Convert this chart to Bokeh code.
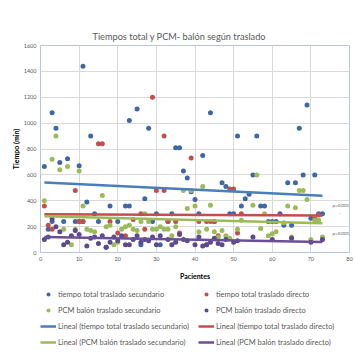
from bokeh.plotting import figure
from bokeh.layouts import column
from bokeh.models import Legend, LegendItem, Label, Range1d, FixedTicker
from bokeh.embed import file_html
from bokeh.resources import INLINE

# ---- data ----
title_text = "Tiempos total y PCM- balón según traslado"
x_ticks = [0, 10, 20, 30, 40, 50, 60, 70, 80]
y_ticks = [0, 200, 400, 600, 800, 1000, 1200, 1400, 1600]

# tiempo total traslado secundario
sec_total_x = [1,2,3,3,4,5,6,7,9,10,10,11,11,12,13,14,15,17,18,20,22,23,23,25,26,27,28,29,30,31,33,34,35,36,37,38,39,40,41,42,43,44,45,47,48,49,50,51,52,53,54,55,56,57,58,59,60,61,62,63,64,65,66,67,68,69,70,71,72,73]
sec_total_y = [665,180,1080,240,960,695,240,725,240,670,240,1440,240,390,900,300,240,40,360,240,360,1020,360,1110,60,415,960,240,300,60,240,300,810,810,630,575,470,410,300,750,60,1080,240,540,510,300,300,900,360,415,450,600,900,360,360,240,240,240,300,210,540,210,540,960,600,1140,265,600,300,300]

# tiempo total traslado directo
dir_total_x = [1,2,3,9,10,11,15,16,18,20,22,24,26,27,29,30,32,32,33,35,36,39,41,43,44,45,46,49,50,51,52,71,72]
dir_total_y = [360,210,180,480,240,240,840,840,240,150,130,255,300,180,1200,480,480,900,240,240,150,730,240,240,240,240,130,490,490,150,300,260,290]

# PCM balón traslado secundario
sec_pcm_x = [1,3,4,5,6,7,8,9,10,11,12,13,14,16,17,18,19,20,21,22,23,24,25,26,27,28,29,30,31,32,33,34,35,37,38,39,40,41,42,43,44,45,46,47,48,49,51,52,55,56,57,58,59,60,61,63,64,65,66,67,68,69,70,71,72,73]
sec_pcm_y = [400,720,900,640,180,665,60,180,630,360,180,170,160,440,200,210,60,80,180,200,210,180,170,240,300,240,180,180,200,180,180,130,200,480,340,480,360,160,510,180,365,160,120,170,130,110,180,250,365,600,185,300,130,145,160,230,360,120,345,480,480,410,100,250,250,120]

# PCM balón traslado directo
dir_pcm_x = [1,2,3,4,5,6,7,8,9,10,12,13,14,15,16,17,18,19,20,21,22,23,24,25,26,27,28,29,30,31,33,34,35,36,37,38,40,41,42,43,44,45,46,47,48,50,51,55,60,65,70,73]
dir_pcm_y = [100,120,260,200,160,60,80,130,170,140,50,110,120,70,130,40,80,120,90,130,60,60,100,130,80,100,90,120,60,130,100,60,80,140,100,90,60,120,50,60,80,110,70,60,100,80,90,120,100,110,80,100]

# linear trend lines (end points)
trend_x = [1, 73]
trend_sec_total = [541, 439]
trend_dir_total = [296, 286]
trend_sec_pcm = [281, 227]
trend_dir_pcm = [120, 82]

# p-value annotations
pval_text = ["p=0,001", "-", "p=0,001"]
pval_x = [75.6, 77.3, 75.6]
pval_y = [360, 300, 150]

legend_labels = [
    "tiempo total traslado secundario",
    "PCM balón traslado secundario",
    "Lineal (tiempo total traslado secundario)",
    "Lineal (PCM balón traslado secundario)",
    "tiempo total traslado directo",
    "PCM balón traslado directo",
    "Lineal (tiempo total traslado directo)",
    "Lineal (PCM balón traslado directo)",
]

# ---- styling ----
C_BLUE_M = "#3F67A6"
C_BLUE_L = "#4A7EBB"
C_RED = "#C0504D"
C_GREEN = "#9BBB59"
C_PURP_M = "#5A4A8E"
C_PURP_L = "#6A4F96"
FONT = "Lato"
TXT = "#595959"
NAN = float("nan")

p = figure(width=355, height=282, output_backend="svg", toolbar_location=None,
           x_range=Range1d(0, 80), y_range=Range1d(0, 1600), title=title_text)
p.min_border_left = 0
p.min_border_right = 6
p.min_border_top = 45
p.min_border_bottom = 28
p.background_fill_color = "white"
p.border_fill_color = "white"
p.outline_line_color = "#B8C4D8"
p.outline_line_width = 1

p.title.text_font = FONT
p.title.text_font_size = "9.2px"
p.title.text_font_style = "normal"
p.title.text_color = TXT
p.title.align = "left"
p.title.offset = 52
p.title.standoff = 8

for ax in (p.xaxis[0], p.yaxis[0]):
    ax.axis_line_color = None
    ax.major_tick_line_color = None
    ax.minor_tick_line_color = None
    ax.major_tick_out = 0
    ax.major_tick_in = 0
    ax.major_label_text_font = FONT
    ax.major_label_text_font_size = "5.5px"
    ax.major_label_text_color = TXT
    ax.axis_label_text_font = FONT
    ax.axis_label_text_font_size = "7px"
    ax.axis_label_text_font_style = "bold"
    ax.axis_label_text_color = "#000000"
    ax.major_label_standoff = 4
    ax.axis_label_standoff = 1

p.xaxis[0].major_label_standoff = 4
p.xaxis[0].axis_label_standoff = 8
p.xaxis[0].ticker = FixedTicker(ticks=x_ticks)
p.yaxis[0].ticker = FixedTicker(ticks=y_ticks)
p.xaxis[0].axis_label = "Pacientes"
p.yaxis[0].axis_label = "Tiempo (min)"
p.xgrid[0].ticker = FixedTicker(ticks=x_ticks)
p.ygrid[0].ticker = FixedTicker(ticks=y_ticks)
p.xgrid.grid_line_color = "#D9D9D9"
p.ygrid.grid_line_color = "#D9D9D9"

p.scatter(sec_total_x, sec_total_y, size=5, color=C_BLUE_M, line_color=None)
p.scatter(dir_total_x, dir_total_y, size=5, color=C_RED, line_color=None)
p.scatter(sec_pcm_x, sec_pcm_y, size=5, color=C_GREEN, line_color=None)
p.scatter(dir_pcm_x, dir_pcm_y, size=5, color=C_PURP_M, line_color=None)

p.line(trend_x, trend_sec_total, line_color=C_BLUE_L, line_width=2.5)
p.line(trend_x, trend_dir_total, line_color=C_RED, line_width=2.5)
p.line(trend_x, trend_sec_pcm, line_color=C_GREEN, line_width=2.5)
p.line(trend_x, trend_dir_pcm, line_color=C_PURP_L, line_width=2.5)

for t, xx, yy in zip(pval_text, pval_x, pval_y):
    p.add_layout(Label(x=xx, y=yy, text=t, text_font=FONT, text_font_size="4.5px",
                       text_color=TXT, text_align="left", text_baseline="middle"))

# ---- legend panel (a second figure holding only the legend) ----
lg = figure(width=355, height=78, output_backend="svg", toolbar_location=None,
            x_range=Range1d(0, 1), y_range=Range1d(0, 1))
lg.axis.visible = False
lg.grid.visible = False
lg.outline_line_color = None
lg.border_fill_color = "white"
lg.min_border_left = 40
lg.min_border_top = 7
lg.min_border_right = 0
lg.min_border_bottom = 0

# legend-only renderers (NaN data: nothing drawn in the panel itself)
e = []
e.append(lg.scatter([NAN], [NAN], size=5, color=C_BLUE_M, line_color=None))
e.append(lg.scatter([NAN], [NAN], size=5, color=C_GREEN, line_color=None))
e.append(lg.line([NAN, NAN], [NAN, NAN], line_color=C_BLUE_L, line_width=2.5))
e.append(lg.line([NAN, NAN], [NAN, NAN], line_color=C_GREEN, line_width=2.5))
e.append(lg.scatter([NAN], [NAN], size=5, color=C_RED, line_color=None))
e.append(lg.scatter([NAN], [NAN], size=5, color=C_PURP_M, line_color=None))
e.append(lg.line([NAN, NAN], [NAN, NAN], line_color=C_RED, line_width=2.5))
e.append(lg.line([NAN, NAN], [NAN, NAN], line_color=C_PURP_L, line_width=2.5))

legend = Legend(items=[LegendItem(label=lab, renderers=[r]) for lab, r in zip(legend_labels, e)])
legend.orientation = "vertical"
legend.nrows = 4
legend.location = "top_left"
legend.label_text_font = FONT
legend.label_text_font_size = "7.5px"
legend.label_text_color = TXT
legend.glyph_width = 16
legend.glyph_height = 10
legend.label_height = 10
legend.label_width = 134
legend.label_standoff = 2
legend.spacing = 6
legend.padding = 2
legend.margin = 0
legend.border_line_color = None
legend.background_fill_alpha = 0
lg.add_layout(legend, "center")

layout = column(p, lg, spacing=0)
open("out.html", "w").write(file_html(layout, INLINE))
